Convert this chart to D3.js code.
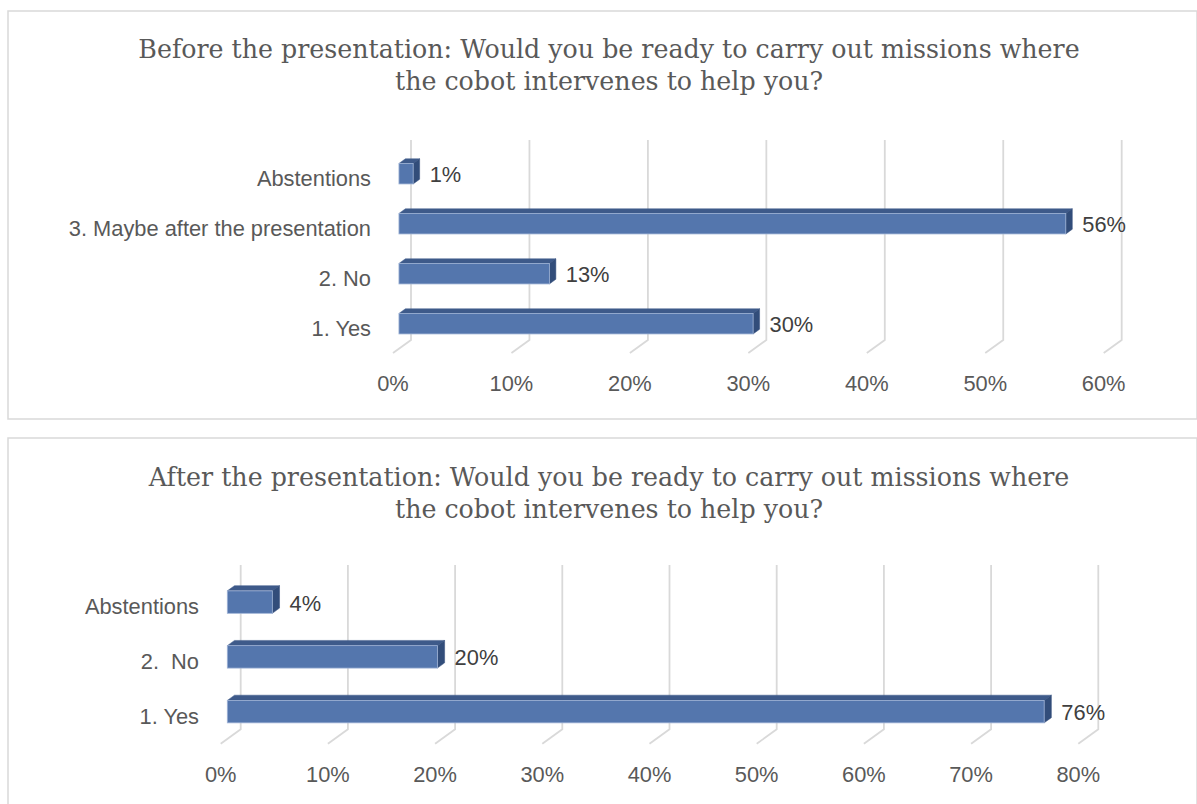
<!DOCTYPE html>
<html>
<head>
<meta charset="utf-8">
<script src="https://cdn.jsdelivr.net/npm/d3@7"></script>
<style>
  html, body { margin: 0; padding: 0; background: #ffffff; }
  svg { display: block; }
</style>
</head>
<body>
<svg id="chart" width="1197" height="804"></svg>
<script>
// ---------------- DATA ----------------
const beforeTitle = ["Before the presentation: Would you be ready to carry out missions where",
                     "the cobot intervenes to help you?"];
const beforeCategories = ["Abstentions", "3. Maybe after the presentation", "2. No", "1. Yes"];
const beforeValues = [0.012, 0.563, 0.127, 0.299];
const beforeTicks = [0, 0.1, 0.2, 0.3, 0.4, 0.5, 0.6];

const afterTitle = ["After the presentation: Would you be ready to carry out missions where",
                    "the cobot intervenes to help you?"];
const afterCategories = ["Abstentions", "2.  No", "1. Yes"];
const afterValues = [0.042, 0.196, 0.762];
const afterTicks = [0, 0.1, 0.2, 0.3, 0.4, 0.5, 0.6, 0.7, 0.8];

// ---------------- LAYOUT ----------------
const svg = d3.select("#chart");
const fmt = d3.format(".0%");

const SANS = "'Liberation Sans', Arial, sans-serif";
const SERIF = "'DejaVu Serif', Georgia, serif";

function fitSize(text, family, target) {
  const t = svg.append("text").attr("font-family", family).attr("font-size", 100).text(text);
  const w = t.node().getComputedTextLength();
  t.remove();
  return 100 * target / w;
}
const catSize = (fitSize("Abstentions", SANS, 112) + fitSize("3. Maybe after the presentation", SANS, 308)) / 2;
const titleSize = fitSize(beforeTitle[0], SERIF, 942);

function drawChart(cfg) {
  const g = svg.append("g");
  // frame
  g.append("rect")
    .attr("x", cfg.box[0]).attr("y", cfg.box[1])
    .attr("width", cfg.box[2]).attr("height", cfg.box[3])
    .attr("fill", "#fff").attr("stroke", "#d9d9d9").attr("stroke-width", 1.5);

  // title
  g.selectAll("text.title").data(cfg.title).join("text")
    .attr("class", "title")
    .attr("x", cfg.titleX).attr("y", (d, i) => cfg.titleY[i])
    .attr("text-anchor", "middle")
    .attr("font-family", SERIF).attr("font-size", titleSize)
    .attr("fill", "#595959").text(d => d);

  const x = d3.scaleLinear().domain([0, cfg.ticks[cfg.ticks.length - 1]]).range(cfg.xRange);
  const y = d3.scaleBand().domain(cfg.categories).range(cfg.yRange);
  const [dx, dy] = cfg.depth;
  const step = y.step();
  const barH = step * 0.41;
  const tFront = 0.67, tBack = 0.31;
  const ox = (tFront - tBack) * -dx, oy = (tFront - tBack) * -dy;

  // gridlines (back wall + floor edge)
  g.selectAll("path.grid").data(cfg.ticks).join("path")
    .attr("class", "grid")
    .attr("d", d => `M${x(d)},${cfg.yRange[0]} L${x(d)},${cfg.yRange[1]} L${x(d) + dx},${cfg.yRange[1] + dy}`)
    .attr("fill", "none").attr("stroke", "#d9d9d9").attr("stroke-width", 1.8);

  // tick labels
  g.selectAll("text.tick").data(cfg.ticks).join("text")
    .attr("class", "tick")
    .attr("x", d => x(d) + dx).attr("y", cfg.tickY)
    .attr("text-anchor", "middle")
    .attr("font-family", SANS).attr("font-size", catSize)
    .attr("fill", "#595959").text(d => fmt(d));

  // category labels
  g.selectAll("text.cat").data(cfg.categories).join("text")
    .attr("class", "cat")
    .attr("x", cfg.labelRight)
    .attr("y", d => y(d) + step / 2 + dy)
    .attr("dominant-baseline", "central")
    .attr("text-anchor", "end")
    .attr("font-family", SANS).attr("font-size", catSize)
    .attr("fill", "#595959").style("white-space", "pre").text(d => d);

  const bars = cfg.categories.map((c, i) => {
    const fx0 = x(0) + tFront * dx;
    const fx1 = x(cfg.values[i]) + tFront * dx;
    const cy = y(c) + step / 2 + tFront * dy;
    return { c, v: cfg.values[i], fx0, fx1, fy0: cy - barH / 2, fy1: cy + barH / 2, cy };
  });

  const bg = g.selectAll("g.bar").data(bars).join("g").attr("class", "bar");
  // top face
  bg.append("path")
    .attr("d", b => `M${b.fx0},${b.fy0} L${b.fx1},${b.fy0} L${b.fx1 + ox},${b.fy0 + oy} L${b.fx0 + ox},${b.fy0 + oy} Z`)
    .attr("fill", "#3e5a8a").attr("stroke", "#3e5a8a").attr("stroke-width", 0.5);
  // side face
  bg.append("path")
    .attr("d", b => `M${b.fx1},${b.fy0} L${b.fx1 + ox},${b.fy0 + oy} L${b.fx1 + ox},${b.fy1 + oy} L${b.fx1},${b.fy1} Z`)
    .attr("fill", "#324d7a").attr("stroke", "#324d7a").attr("stroke-width", 0.5);
  // front face
  bg.append("rect")
    .attr("x", b => b.fx0).attr("y", b => b.fy0)
    .attr("width", b => b.fx1 - b.fx0).attr("height", barH)
    .attr("fill", "#5476ad").attr("stroke", "#9fb3d6").attr("stroke-width", 0.8);

  // data labels
  bg.append("text")
    .attr("x", b => b.fx1 + ox + 10)
    .attr("y", b => b.cy + 1)
    .attr("dominant-baseline", "central")
    .attr("font-family", SANS).attr("font-size", catSize)
    .attr("fill", "#404040").text(b => fmt(b.v));
}

drawChart({
  box: [8, 11, 1189, 408],
  title: beforeTitle, titleX: 609, titleY: [58, 90],
  categories: beforeCategories, values: beforeValues, ticks: beforeTicks,
  xRange: [411, 1121.7], yRange: [140, 340], depth: [-18, 13],
  labelRight: 371, tickY: 391
});

drawChart({
  box: [8, 438, 1189, 380],
  title: afterTitle, titleX: 609, titleY: [486, 518],
  categories: afterCategories, values: afterValues, ticks: afterTicks,
  xRange: [240.7, 1098.3], yRange: [565, 729.3], depth: [-20, 14.5],
  labelRight: 199, tickY: 782
});
</script>
</body>
</html>
